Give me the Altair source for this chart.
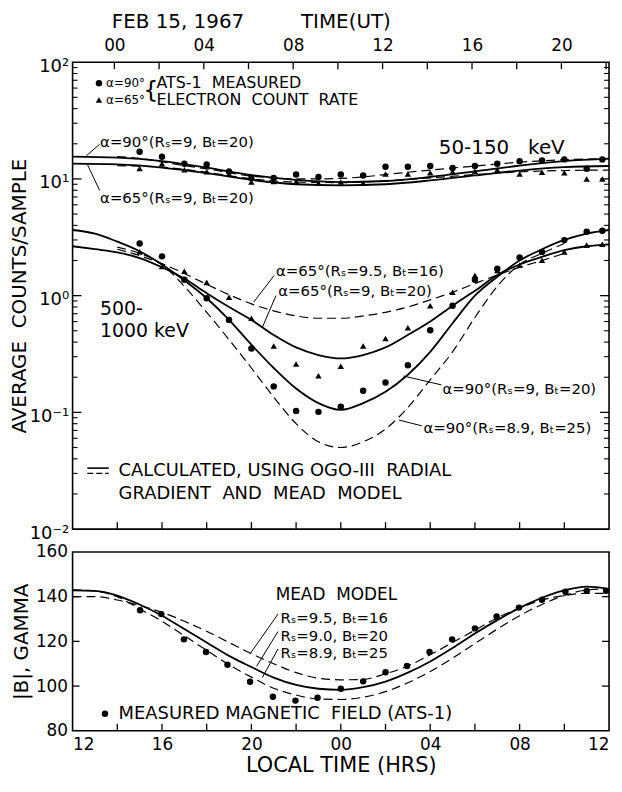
import altair as alt
import pandas as pd

FONT = "DejaVu Sans"
UT_OFF = 1.87  # local-time hours (since LT 12) at which UT 00 falls
NB = "\u00a0"

# ---------------- measured electron count rates (top panel) ----------------
meas_h = [3, 4, 5, 6, 7, 8, 9, 10, 11, 12, 13, 14, 15, 16, 17, 18, 19, 20, 21, 22, 23, 23.7]
lo_a90 = [17.1, 15.5, 13.5, 13.3, 11.6, 10.2, 10.2, 10.9, 10.4, 10.9, 10.7, 12.7, 12.7, 12.9, 12.4, 12.9, 13.5, 14.2, 14.4, 14.7, 12.2, 14.7]
lo_a65 = [12.3, 13.5, 12.0, 11.5, 11.0, 9.4, 9.5, 9.5, 9.2, 9.4, 9.2, 11.0, 11.0, 11.3, 11.5, 11.6, 12.0, 11.0, 11.4, 11.3, 10.0, 10.0]
hi_a90 = [2.8, 2.17, 1.37, 0.95, 0.62, 0.353, 0.167, 0.103, 0.101, 0.112, 0.153, 0.18, 0.253, 0.505, 0.82, 1.37, 1.70, 2.12, 2.37, 2.99, 3.53, 3.6]
hi_a65 = [2.37, 1.78, 1.62, 1.30, 0.97, 0.64, 0.37, 0.26, 0.206, 0.248, 0.37, 0.43, 0.53, 0.82, 1.07, 1.49, 1.64, 1.82, 2.01, 2.37, 2.71, 2.76]

# ---------------- calculated curves (top panel) ----------------
h_even = [0, 2, 4, 6, 8, 10, 12, 14, 16, 18, 20, 22, 24]
h_all = list(range(0, 25))
h_2_24 = list(range(2, 25))
h_2_24_even = [2, 4, 6, 8, 10, 12, 14, 16, 18, 20, 22, 24]
h_2_22 = list(range(2, 23))
lo_sol90 = [15.5, 15.2, 14.2, 12.5, 10.8, 9.8, 9.4, 9.6, 10.4, 11.6, 13.0, 14.2, 14.9]
lo_sol65 = [13.5, 13.3, 12.5, 11.2, 9.8, 9.0, 8.8, 9.0, 9.7, 10.7, 11.8, 12.6, 12.9]
lo_dash90 = [15.5, 15.0, 14.0, 13.0, 12.2, 11.3, 10.6, 10.2, 10.0, 10.0, 10.1, 10.4, 10.9, 11.4, 11.9, 12.4, 12.9, 13.4, 13.9, 14.3, 14.6, 14.8, 14.9]
lo_dash65 = [13.0, 12.6, 11.4, 10.0, 9.4, 9.3, 9.6, 10.2, 10.9, 11.5, 11.8, 11.9]
hi_sol90 = [3.65, 3.4, 2.9, 2.4, 1.85, 1.35, 0.95, 0.62, 0.38, 0.24, 0.16, 0.12, 0.105, 0.12, 0.15, 0.21, 0.33, 0.58, 1.0, 1.45, 2.0, 2.5, 3.0, 3.4, 3.65]
hi_sol65 = [2.65, 2.5, 2.35, 2.1, 1.75, 1.4, 1.05, 0.8, 0.62, 0.46, 0.36, 0.31, 0.29, 0.31, 0.36, 0.46, 0.6, 0.82, 1.1, 1.5, 1.85, 2.15, 2.45, 2.65, 2.75]
hi_dash65 = [2.5, 2.2, 1.88, 1.55, 1.25, 1.02, 0.85, 0.74, 0.67, 0.64, 0.64, 0.67, 0.72, 0.8, 0.92, 1.07, 1.27, 1.5, 1.75, 2.0, 2.3]
hi_dash90 = [2.6, 2.3, 1.85, 1.2, 0.72, 0.42, 0.24, 0.135, 0.08, 0.056, 0.05, 0.056, 0.072, 0.11, 0.19, 0.33, 0.65, 1.2, 1.85, 2.3, 2.8]

# ---------------- magnetic field (bottom panel) ----------------
b_h = [3.02, 3.97, 4.98, 5.97, 6.93, 7.94, 8.96, 9.97, 10.96, 12.0, 13.0, 14.0, 14.96, 15.97, 16.98, 18.0, 18.97, 19.97, 21.0, 22.05, 23.0, 23.87]
b_meas = [133.9, 132.2, 120.9, 115.2, 109.5, 101.9, 95.2, 93.5, 94.8, 98.8, 102.1, 106.2, 109.0, 115.2, 120.9, 125.8, 131.1, 135.1, 138.6, 142.2, 142.6, 142.6]
b_sol = [142.8, 142.6, 140.5, 136.5, 131.5, 125.5, 119.5, 113.5, 108.5, 103.8, 100.5, 98.8, 98.3, 99.5, 102.0, 106.0, 111.0, 117.0, 123.5, 129.5, 135.0, 139.5, 142.8, 144.5, 143.5]
b_d95 = [140.0, 140.0, 138.5, 136.0, 133.0, 129.0, 124.5, 119.5, 114.5, 110.0, 106.0, 103.5, 102.8, 103.0, 105.5, 109.0, 114.0, 119.5, 125.0, 130.5, 135.0, 138.5, 140.5, 141.5, 141.5]
b_d89 = [143.0, 142.5, 140.0, 134.5, 129.0, 122.5, 116.0, 109.5, 104.0, 99.0, 96.0, 94.2, 94.0, 95.0, 97.5, 101.5, 106.5, 112.5, 119.0, 125.5, 131.5, 136.5, 140.5, 143.0, 143.5]

# ---------------- annotation texts ----------------
top_txt_left = [
    (1.5, 66.0, "α=90°", 12), (1.5, 47.5, "α=65°", 12),
    (3.75, 66.0, "ATS-1" + NB * 2 + "MEASURED", 16), (3.75, 47.5, "ELECTRON" + NB * 2 + "COUNT" + NB * 2 + "RATE", 16),
    (1.23, 20.5, "α=90°(Rₛ=9, Bₜ=20)", 15), (1.23, 6.85, "α=65°(Rₛ=9, Bₜ=20)", 15),
    (1.23, 0.77, "500-", 19), (1.23, 0.50, "1000 keV", 19),
    (9.1, 1.64, "α=65°(Rₛ=9.5, Bₜ=16)", 15), (9.2, 1.10, "α=65°(Rₛ=9, Bₜ=20)", 15),
    (16.55, 0.16, "α=90°(Rₛ=9, Bₜ=20)", 15), (15.7, 0.0728, "α=90°(Rₛ=8.9, Bₜ=25)", 15),
    (2.06, 0.0315, "CALCULATED, USING OGO-III" + NB * 2 + "RADIAL", 18),
    (2.06, 0.0201, "GRADIENT" + NB * 2 + "AND" + NB * 2 + "MEAD" + NB * 2 + "MODEL", 18),
]
top_txt_center = [(19.2, 18.5, "50-150" + NB * 3 + "keV", 20), (3.5, 56.4, "{", 24)]
top_leaders = [
    ("a", 1.21, 19.8), ("a", 0.62, 15.8), ("b", 1.21, 7.98), ("b", 0.67, 13.2),
    ("c", 9.02, 1.49), ("c", 8.1, 0.88), ("d", 9.1, 1.0), ("d", 8.5, 0.54),
    ("e", 16.5, 0.172), ("e", 14.8, 0.205), ("f", 15.62, 0.0767), ("f", 14.6, 0.086),
]
legend_line_h = [0.66, 1.62]
legend_solid_v = [0.0333, 0.0333]
legend_dash_v = [0.0300, 0.0300]
legend_mark_h = [1.18, 1.18]
legend_mark_v = [66.0, 47.5]
legend_mark_shape = ["circle", "triangle"]

bot_txt_left = [
    (9.3, 130.3, "Rₛ=9.5, Bₜ=16", 15), (9.3, 122.6, "Rₛ=9.0, Bₜ=20", 15),
    (9.3, 114.9, "Rₛ=8.9, Bₜ=25", 15), (2.06, 87.6, "MEASURED MAGNETIC" + NB * 2 + "FIELD (ATS-1)", 18),
]
bot_txt_center = [(11.8, 140.6, "MEAD" + NB * 2 + "MODEL", 17)]
bot_leaders = [
    ("a", 9.19, 132.2), ("a", 7.94, 114.4), ("b", 9.19, 124.4), ("b", 8.23, 108.8),
    ("c", 9.19, 116.6), ("c", 8.49, 103.8),
]
bot_legend_dot_h = [1.45]
bot_legend_dot_v = [87.6]

# ---------------- tick positions ----------------
log_major = [0.1, 1, 10]
log_minor = [m * 10.0 ** k for k in range(-2, 2) for m in range(2, 10)]
lt_ticks = list(range(2, 23, 2))
ut_ticks = [u + UT_OFF for u in range(0, 23, 2)]
b_ticks = [100, 120, 140]

W, H1, H2, GAP = 540, 470, 180, 23

# ---------------- build tables ----------------
def frame(h, v, **kw):
    d = pd.DataFrame({"h": h, "v": v})
    for k, val in kw.items():
        d[k] = val
    return d

pts_top = pd.concat([
    frame(meas_h, lo_a90, shape="circle"), frame(meas_h, lo_a65, shape="triangle"),
    frame(meas_h, hi_a90, shape="circle"), frame(meas_h, hi_a65, shape="triangle"),
    frame(legend_mark_h, legend_mark_v, shape=legend_mark_shape),
])
solid_top = pd.concat([
    frame(h_even, lo_sol90, c="lo90"), frame(h_even, lo_sol65, c="lo65"),
    frame(h_all, hi_sol90, c="hi90"), frame(h_all, hi_sol65, c="hi65"),
])
dash_top = pd.concat([
    frame(h_2_24, lo_dash90, c="lo90"), frame(h_2_24_even, lo_dash65, c="lo65"),
    frame(h_2_22, hi_dash65, c="hi65"), frame(h_2_22, hi_dash90, c="hi90"),
])
leg_solid = frame(legend_line_h, legend_solid_v, c="ls")
leg_dash = frame(legend_line_h, legend_dash_v, c="ld")
tl = pd.DataFrame(top_txt_left, columns=["h", "v", "t", "fs"])
tc = pd.DataFrame(top_txt_center, columns=["h", "v", "t", "fs"])
tlead = pd.DataFrame(top_leaders, columns=["c", "h", "v"])

bpts = frame(b_h + bot_legend_dot_h, b_meas + bot_legend_dot_v)
bsolid = frame(h_all, b_sol, c="s")
bdash = pd.concat([frame(h_all, b_d95, c="d95"), frame(h_all, b_d89, c="d89")])
bl = pd.DataFrame(bot_txt_left, columns=["h", "v", "t", "fs"])
bc = pd.DataFrame(bot_txt_center, columns=["h", "v", "t", "fs"])
blead = pd.DataFrame(bot_leaders, columns=["c", "h", "v"])

xs = alt.Scale(domain=[0, 24], nice=False, zero=False)
ys1 = alt.Scale(type="log", domain=[0.01, 100], nice=False)
ys2 = alt.Scale(domain=[80, 160], nice=False, zero=False)

ut_label = ("round(datum.value - %s) %% 4 == 0 ? (round(datum.value - %s) < 10 ? '0' + round(datum.value - %s) : '' + round(datum.value - %s)) : ''"
            % (UT_OFF, UT_OFF, UT_OFF, UT_OFF))
lt_label = "((datum.value + 12) % 24) < 10 ? '0' + ((datum.value + 12) % 24) : '' + ((datum.value + 12) % 24)"
pow_label = ("datum.value >= 100 ? '10²' : datum.value >= 10 ? '10¹' : datum.value >= 1 ? '10⁰' : "
             "datum.value >= 0.1 ? '10⁻¹' : '10⁻²'")

top_x_axis = alt.Axis(orient="top", values=ut_ticks, labelExpr=ut_label, ticks=False, domain=False,
                      grid=False, labelFontSize=17, labelPadding=8, labelFont=FONT,
                      title="FEB 15, 1967" + NB * 9 + "TIME(UT)", titleFontSize=20, titleFont=FONT,
                      titleFontWeight="normal", titleX=39, titleY=-41, titleAlign="left",
                      titleBaseline="middle")
top_y_axis = alt.Axis(values=[0.01, 0.1, 1, 10, 100], labelExpr=pow_label, ticks=False, domain=False,
                      grid=False, labelFontSize=18, labelPadding=4, labelOffset=4, labelFont=FONT,
                      title="AVERAGE" + NB * 2 + "COUNTS/SAMPLE", titleFontSize=20, titleFont=FONT,
                      titleFontWeight="normal", titlePadding=0)
bot_x_axis = alt.Axis(values=[0, 4, 8, 12, 16, 20, 24], labelExpr=lt_label, labelFlush=True, ticks=False,
                      domain=False, grid=False, labelFontSize=17, labelPadding=6, labelFont=FONT,
                      title="LOCAL TIME (HRS)", titleFontSize=21, titleFont=FONT, titleFontWeight="normal",
                      titlePadding=2)
bot_y_axis = alt.Axis(values=[80, 100, 120, 140, 160], ticks=False, domain=False, grid=False,
                      labelFontSize=17, labelPadding=5, labelFont=FONT,
                      title="|B|, GAMMA", titleFontSize=20, titleFont=FONT, titleFontWeight="normal",
                      titlePadding=4)

# every layer carries the same axis definition so that the merged axes agree
XT = lambda: alt.X("h:Q", scale=xs, axis=top_x_axis)
YT = lambda: alt.Y("v:Q", scale=ys1, axis=top_y_axis)
XB = lambda: alt.X("h:Q", scale=xs, axis=bot_x_axis)
YB = lambda: alt.Y("v:Q", scale=ys2, axis=bot_y_axis)

shape_enc = alt.Shape("shape:N", scale=alt.Scale(domain=["circle", "triangle"], range=["circle", "triangle-up"]), legend=None)

top_layers = [
    alt.Chart(solid_top).mark_line(color="black", strokeWidth=1.8, interpolate="monotone").encode(
        x=XT(), y=YT(), detail="c:N"),
    alt.Chart(dash_top).mark_line(color="black", strokeWidth=1.2, strokeDash=[9, 5], interpolate="monotone").encode(
        x=XT(), y=YT(), detail="c:N"),
    alt.Chart(leg_solid).mark_line(color="black", strokeWidth=1.6).encode(x=XT(), y=YT()),
    alt.Chart(leg_dash).mark_line(color="black", strokeWidth=1.4, strokeDash=[6, 3]).encode(x=XT(), y=YT()),
    alt.Chart(tlead).mark_line(color="black", strokeWidth=1).encode(x=XT(), y=YT(), detail="c:N"),
    alt.Chart(pts_top).mark_point(filled=True, color="black", size=42, opacity=1).encode(x=XT(), y=YT(), shape=shape_enc),
    alt.Chart(tl).mark_text(align="left", baseline="middle", font=FONT, color="black").encode(
        x=XT(), y=YT(), text="t:N", size=alt.Size("fs:Q", scale=None)),
    alt.Chart(tc).mark_text(align="center", baseline="middle", font=FONT, color="black").encode(
        x=XT(), y=YT(), text="t:N", size=alt.Size("fs:Q", scale=None)),
    # inward tick marks
    alt.Chart(pd.DataFrame({"v": log_major})).mark_rule(color="black", strokeWidth=1.3).encode(
        y=YT(), x=alt.value(0), x2=alt.value(9)),
    alt.Chart(pd.DataFrame({"v": log_minor})).mark_rule(color="black", strokeWidth=1.1).encode(
        y=YT(), x=alt.value(0), x2=alt.value(5)),
    alt.Chart(pd.DataFrame({"v": log_major})).mark_rule(color="black", strokeWidth=1.3).encode(
        y=YT(), x=alt.value(W - 9), x2=alt.value(W)),
    alt.Chart(pd.DataFrame({"v": log_minor})).mark_rule(color="black", strokeWidth=1.1).encode(
        y=YT(), x=alt.value(W - 5), x2=alt.value(W)),
    alt.Chart(pd.DataFrame({"h": ut_ticks})).mark_rule(color="black", strokeWidth=1.3).encode(
        x=XT(), y=alt.value(0), y2=alt.value(7)),
    alt.Chart(pd.DataFrame({"h": lt_ticks})).mark_rule(color="black", strokeWidth=1.3).encode(
        x=XT(), y=alt.value(H1 - 7), y2=alt.value(H1)),
]
top = alt.layer(*top_layers).properties(width=W, height=H1)

bot_layers = [
    alt.Chart(bsolid).mark_line(color="black", strokeWidth=1.8, interpolate="monotone").encode(
        x=XB(), y=YB(), detail="c:N"),
    alt.Chart(bdash).mark_line(color="black", strokeWidth=1.2, strokeDash=[9, 5], interpolate="monotone").encode(
        x=XB(), y=YB(), detail="c:N"),
    alt.Chart(blead).mark_line(color="black", strokeWidth=1).encode(x=XB(), y=YB(), detail="c:N"),
    alt.Chart(bpts).mark_circle(color="black", size=42, opacity=1).encode(x=XB(), y=YB()),
    alt.Chart(bl).mark_text(align="left", baseline="middle", font=FONT, color="black").encode(
        x=XB(), y=YB(), text="t:N", size=alt.Size("fs:Q", scale=None)),
    alt.Chart(bc).mark_text(align="center", baseline="middle", font=FONT, color="black").encode(
        x=XB(), y=YB(), text="t:N", size=alt.Size("fs:Q", scale=None)),
    alt.Chart(pd.DataFrame({"v": b_ticks})).mark_rule(color="black", strokeWidth=1.3).encode(
        y=YB(), x=alt.value(0), x2=alt.value(7)),
    alt.Chart(pd.DataFrame({"v": b_ticks})).mark_rule(color="black", strokeWidth=1.3).encode(
        y=YB(), x=alt.value(W - 7), x2=alt.value(W)),
    alt.Chart(pd.DataFrame({"h": lt_ticks})).mark_rule(color="black", strokeWidth=1.3).encode(
        x=XB(), y=alt.value(H2 - 7), y2=alt.value(H2)),
]
bottom = alt.layer(*bot_layers).properties(width=W, height=H2)

chart = alt.vconcat(top, bottom, spacing=GAP, bounds="flush").properties(
    padding={"left": 0, "top": 0, "right": 0, "bottom": 0},
    background="white",
).configure_view(stroke="black", strokeWidth=1.6).configure_axis(
    labelColor="black", titleColor="black"
)

chart.save("out.html", embed_options={"renderer": "svg", "actions": False})
